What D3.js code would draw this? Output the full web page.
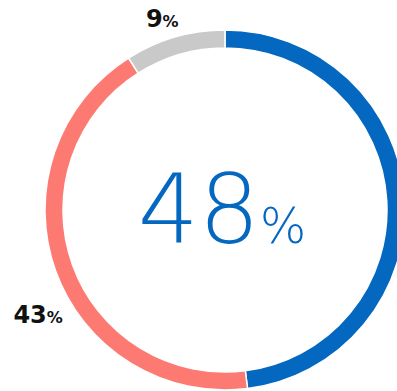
<!DOCTYPE html>
<html>
<head>
<meta charset="utf-8">
<script src="https://cdn.jsdelivr.net/npm/d3@7"></script>
<style>
  body { margin: 0; background: #fff; }
  svg { display: block; }
</style>
</head>
<body>
<svg id="chart" width="397" height="391"></svg>
<script>
// values
const categories = ["A", "B", "C"];
const values = [48, 43, 9];
const colors = ["#0467c0", "#fd7a72", "#c9c9c9"];
const showLabel = [false, true, true];
const headline = 48;

const width = 397, height = 391;
const cx = 225, cy = 210;
const outerR = 180, innerR = 162;

const svg = d3.select("#chart");
const g = svg.append("g").attr("transform", `translate(${cx},${cy})`);

const pie = d3.pie().sort(null).value(d => d.value);
const arcs = pie(categories.map((c, i) => ({ cat: c, value: values[i], i: i })));

const arc = d3.arc().innerRadius(innerR).outerRadius(outerR);

g.selectAll("path")
    .data(arcs)
    .join("path")
    .attr("d", arc)
    .attr("fill", d => colors[d.data.i])
    .attr("stroke", "#fff")
    .attr("stroke-width", 1.5);

// outside labels: box edge kept a few px off the ring
const labelGap = 8;
const labelSize = 24;
const capH = labelSize * 0.729;
const lab = g.selectAll("text.lab")
    .data(arcs.filter(d => showLabel[d.data.i]))
    .join("text")
    .attr("class", "lab")
    .style("font-family", "'DejaVu Sans', sans-serif")
    .style("font-weight", "700")
    .attr("fill", "#111");

lab.append("tspan").style("font-size", labelSize + "px").text(d => d.data.value);
lab.append("tspan").style("font-size", "16px").text("%");

lab.each(function(d) {
    const a = d.startAngle + 0.44 * (d.endAngle - d.startAngle);
    const s = Math.sin(a), c = -Math.cos(a);
    const b = this.getBBox();
    // horizontal extent from bbox, vertical from digit cap height
    const ext = b.width / 2 * Math.abs(s) + capH / 2 * Math.abs(c);
    const r = outerR + labelGap + ext;
    const ox = b.x + b.width / 2, oy = -capH / 2;
    d3.select(this).attr("transform", `translate(${r * s - ox},${r * c - oy})`);
});

const big = g.append("text")
    .attr("text-anchor", "middle")
    .attr("x", -3)
    .attr("y", 33)
    .style("font-family", "'DejaVu Sans', sans-serif")
    .style("font-weight", "200")
    .attr("fill", "#0467c0");
big.append("tspan").style("font-size", "96px").text(headline);
big.append("tspan").style("font-size", "49px").text("%");
</script>
</body>
</html>
